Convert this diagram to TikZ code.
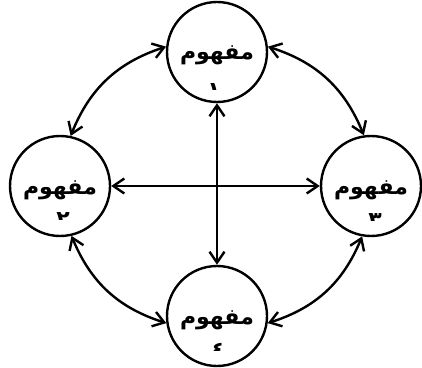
\documentclass[tikz,border=0pt]{standalone}
\usepackage{fontspec}
\usetikzlibrary{arrows.meta}
\TeXXeTstate=1
\newfontfamily\arabicfont[Script=Arabic,BoldFont={DejaVu Sans Bold}]{DejaVu Sans}
\tikzset{
  concept/.style={draw, circle, line width=2.4pt, minimum size=100pt, inner sep=0pt},
  link/.style={line width=2.4pt, {Straight Barb[length=11pt,width=15pt]}-{Straight Barb[length=11pt,width=15pt]}},
  word/.style={font=\arabicfont\bfseries\fontsize{22}{26}\selectfont, inner sep=0pt, anchor=base},
  digit/.style={font=\arabicfont\bfseries\fontsize{22}{26}\selectfont, inner sep=0pt, anchor=north}
}
\begin{document}
\begin{tikzpicture}[x=1pt,y=1pt]
\useasboundingbox (0,0) rectangle (422,367);
\node[concept] (c1) at (217,315) {};
\node[concept] (c2) at (60,181) {};
\node[concept] (c3) at (371,181) {};
\node[concept] (c4) at (217,51) {};
% words
\node[word] (w1) at ([yshift=-8pt]c1.center) {\beginR مفهوم\endR};
\node[word] (w2) at ([yshift=-8pt]c2.center) {\beginR مفهوم\endR};
\node[word] (w3) at ([yshift=-8pt]c3.center) {\beginR مفهوم\endR};
\node[word] (w4) at ([yshift=-8pt]c4.center) {\beginR مفهوم\endR};
% clipped digits
\begin{scope}
\clip ([xshift=-20pt,yshift=-38pt]c1.center) rectangle ([xshift=20pt,yshift=-22pt]c1.center);
\node[digit] (d1) at ([xshift=-3pt,yshift=-31pt]c1.center) {\beginR ١\endR};
\end{scope}
\begin{scope}
\clip ([xshift=-20pt,yshift=-33pt]c2.center) rectangle ([xshift=20pt,yshift=-20pt]c2.center);
\node[digit] (d2) at ([xshift=3pt,yshift=-26pt]c2.center) {\beginR ٢\endR};
\end{scope}
\begin{scope}
\clip ([xshift=-20pt,yshift=-34pt]c3.center) rectangle ([xshift=20pt,yshift=-20pt]c3.center);
\node[digit] (d3) at ([xshift=4pt,yshift=-27pt]c3.center) {\beginR ٣\endR};
\end{scope}
\begin{scope}
\clip ([xshift=-20pt,yshift=-34pt]c4.center) rectangle ([xshift=20pt,yshift=-20pt]c4.center);
\node[digit] (d4) at ([xshift=1pt,yshift=-27pt]c4.center) {\beginR ٤\endR};
\end{scope}
% straight links
\draw[link] (c1.south) -- (c4.north);
\draw[link] (c2.east) -- (c3.west);
% curved links
\draw[link] (c1.174) to[bend right=25] (c2.78);
\draw[link] (c1.6) to[bend left=25] (c3.98);
\draw[link] (c2.283) to[bend right=25] (c4.188);
\draw[link] (c3.260) to[bend left=25] (c4.352);
\end{tikzpicture}
\end{document}
